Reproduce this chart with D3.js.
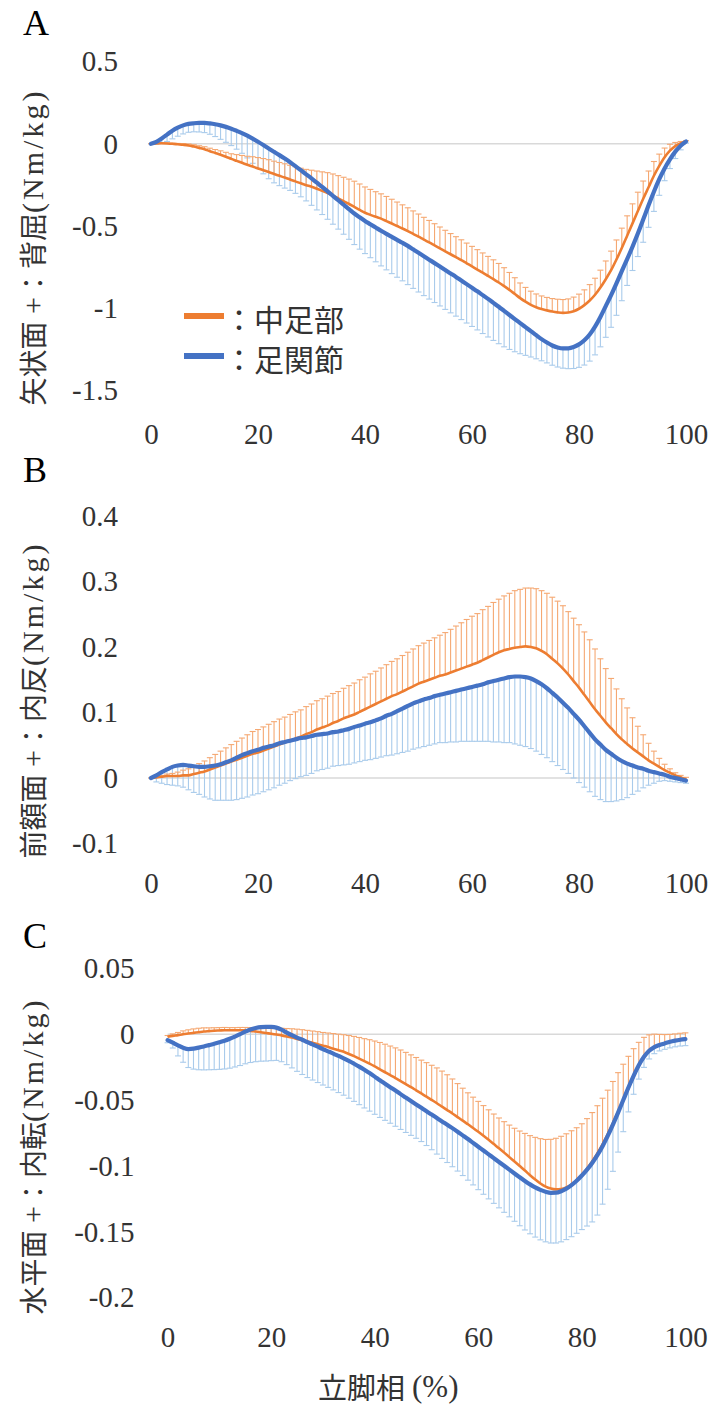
<!DOCTYPE html>
<html><head><meta charset="utf-8">
<script src="https://cdn.jsdelivr.net/npm/d3@7"></script>
<style>body{margin:0;background:#fff;} svg{display:block;}</style>
</head><body>
<svg id="chart" width="714" height="1409"></svg>
<script>
// ---------------- DATA ----------------
const stancePct = d3.range(0, 101); // 立脚相 0..100 %
const seriesNames = ["中足部", "足関節"];
const xTicks = [0, 20, 40, 60, 80, 100];

// Panel A: 矢状面 (sagittal)
const aTicks = [0.5, 0, -0.5, -1, -1.5];
const aMidfootMean = [0.000,0.002,0.003,0.002,0.000,-0.003,-0.006,-0.010,-0.017,-0.025,-0.033,-0.045,-0.056,-0.067,-0.079,-0.092,-0.104,-0.116,-0.128,-0.139,-0.150,-0.161,-0.172,-0.184,-0.195,-0.206,-0.218,-0.229,-0.241,-0.252,-0.262,-0.274,-0.287,-0.300,-0.316,-0.333,-0.350,-0.367,-0.385,-0.403,-0.420,-0.433,-0.445,-0.456,-0.471,-0.486,-0.501,-0.516,-0.532,-0.549,-0.566,-0.584,-0.601,-0.619,-0.637,-0.655,-0.673,-0.691,-0.709,-0.728,-0.747,-0.766,-0.785,-0.805,-0.825,-0.845,-0.867,-0.890,-0.915,-0.940,-0.962,-0.981,-0.996,-1.007,-1.015,-1.022,-1.027,-1.030,-1.028,-1.020,-1.005,-0.983,-0.955,-0.920,-0.876,-0.825,-0.770,-0.705,-0.635,-0.560,-0.485,-0.410,-0.335,-0.265,-0.195,-0.135,-0.082,-0.042,-0.014,0.004,0.014];
const aMidfootSd = [0.000,0.001,0.002,0.003,0.004,0.005,0.007,0.009,0.011,0.013,0.015,0.018,0.021,0.024,0.027,0.031,0.038,0.045,0.052,0.060,0.066,0.071,0.075,0.078,0.081,0.084,0.087,0.089,0.092,0.096,0.101,0.108,0.116,0.124,0.132,0.139,0.146,0.152,0.157,0.158,0.157,0.155,0.153,0.151,0.150,0.148,0.146,0.144,0.142,0.140,0.138,0.136,0.134,0.132,0.130,0.128,0.126,0.125,0.124,0.123,0.122,0.121,0.120,0.119,0.118,0.116,0.112,0.106,0.099,0.092,0.087,0.083,0.081,0.080,0.079,0.079,0.080,0.081,0.083,0.086,0.089,0.093,0.097,0.101,0.106,0.111,0.116,0.119,0.121,0.121,0.119,0.115,0.108,0.099,0.087,0.072,0.056,0.039,0.022,0.010,0.005];
const aAnkleMean = [0.000,0.012,0.032,0.056,0.080,0.098,0.112,0.121,0.125,0.127,0.127,0.124,0.119,0.112,0.103,0.092,0.079,0.065,0.049,0.031,0.012,-0.008,-0.029,-0.049,-0.069,-0.090,-0.112,-0.136,-0.161,-0.186,-0.211,-0.237,-0.263,-0.290,-0.317,-0.344,-0.371,-0.398,-0.425,-0.448,-0.470,-0.490,-0.510,-0.530,-0.549,-0.567,-0.585,-0.603,-0.622,-0.643,-0.664,-0.685,-0.706,-0.727,-0.748,-0.769,-0.790,-0.811,-0.833,-0.855,-0.877,-0.899,-0.922,-0.945,-0.969,-0.993,-1.018,-1.043,-1.068,-1.093,-1.117,-1.141,-1.166,-1.190,-1.211,-1.229,-1.241,-1.247,-1.246,-1.238,-1.222,-1.197,-1.162,-1.114,-1.055,-0.989,-0.922,-0.850,-0.776,-0.703,-0.627,-0.547,-0.462,-0.375,-0.292,-0.216,-0.150,-0.095,-0.048,-0.012,0.014];
const aAnkleSd = [0.000,0.015,0.030,0.042,0.050,0.052,0.052,0.051,0.052,0.055,0.059,0.066,0.075,0.085,0.094,0.103,0.112,0.123,0.135,0.150,0.163,0.175,0.184,0.189,0.186,0.180,0.172,0.166,0.162,0.162,0.164,0.166,0.168,0.170,0.173,0.176,0.180,0.184,0.189,0.194,0.199,0.204,0.209,0.214,0.219,0.224,0.228,0.232,0.236,0.238,0.239,0.240,0.240,0.240,0.240,0.240,0.240,0.239,0.238,0.237,0.236,0.235,0.234,0.232,0.229,0.225,0.219,0.210,0.199,0.186,0.172,0.158,0.144,0.132,0.124,0.120,0.119,0.120,0.124,0.131,0.140,0.151,0.162,0.172,0.182,0.190,0.196,0.195,0.180,0.160,0.145,0.140,0.138,0.134,0.120,0.098,0.075,0.056,0.042,0.025,0.010];

// Panel B: 前額面 (frontal)
const bTicks = [0.4, 0.3, 0.2, 0.1, 0, -0.1];
const bMidfootMean = [0.000,0.001,0.002,0.003,0.003,0.003,0.004,0.004,0.006,0.008,0.010,0.013,0.016,0.019,0.022,0.025,0.028,0.031,0.034,0.037,0.039,0.042,0.045,0.048,0.051,0.054,0.057,0.060,0.063,0.067,0.070,0.074,0.077,0.080,0.084,0.087,0.091,0.094,0.097,0.101,0.105,0.109,0.113,0.117,0.121,0.125,0.128,0.132,0.136,0.140,0.144,0.147,0.150,0.153,0.156,0.158,0.161,0.164,0.167,0.170,0.173,0.176,0.180,0.184,0.188,0.192,0.195,0.197,0.199,0.200,0.201,0.200,0.198,0.194,0.189,0.182,0.175,0.167,0.158,0.148,0.138,0.127,0.116,0.105,0.095,0.085,0.076,0.067,0.059,0.052,0.045,0.039,0.033,0.027,0.022,0.017,0.012,0.008,0.004,0.001,-0.002];
const bMidfootSd = [0.000,0.001,0.002,0.003,0.004,0.006,0.008,0.010,0.012,0.014,0.016,0.018,0.020,0.022,0.024,0.026,0.028,0.030,0.032,0.034,0.035,0.036,0.037,0.038,0.039,0.039,0.040,0.041,0.041,0.042,0.043,0.044,0.044,0.045,0.045,0.045,0.046,0.047,0.048,0.049,0.049,0.050,0.050,0.051,0.052,0.053,0.054,0.055,0.056,0.057,0.058,0.059,0.060,0.061,0.062,0.064,0.066,0.068,0.070,0.072,0.074,0.075,0.077,0.078,0.080,0.081,0.083,0.085,0.087,0.088,0.089,0.090,0.091,0.092,0.093,0.094,0.095,0.096,0.096,0.096,0.096,0.096,0.095,0.092,0.087,0.082,0.076,0.069,0.062,0.055,0.047,0.040,0.033,0.026,0.019,0.013,0.009,0.006,0.004,0.003,0.003];
const bAnkleMean = [0.000,0.004,0.009,0.013,0.017,0.019,0.020,0.019,0.018,0.017,0.017,0.018,0.019,0.021,0.024,0.027,0.031,0.035,0.038,0.041,0.043,0.046,0.048,0.050,0.053,0.055,0.057,0.059,0.061,0.062,0.064,0.066,0.067,0.068,0.070,0.071,0.073,0.075,0.078,0.080,0.083,0.085,0.088,0.091,0.095,0.098,0.102,0.106,0.110,0.114,0.117,0.120,0.122,0.125,0.127,0.129,0.131,0.133,0.135,0.137,0.139,0.141,0.143,0.146,0.148,0.150,0.152,0.154,0.155,0.155,0.154,0.152,0.148,0.143,0.137,0.130,0.123,0.115,0.107,0.098,0.089,0.079,0.069,0.059,0.051,0.043,0.037,0.031,0.026,0.022,0.019,0.016,0.014,0.011,0.009,0.007,0.005,0.002,0.000,-0.002,-0.004];
const bAnkleSd = [0.000,0.010,0.017,0.023,0.028,0.031,0.034,0.037,0.040,0.042,0.046,0.050,0.053,0.055,0.058,0.061,0.064,0.066,0.067,0.067,0.067,0.067,0.066,0.065,0.064,0.063,0.061,0.060,0.059,0.058,0.057,0.055,0.054,0.053,0.052,0.052,0.053,0.054,0.055,0.055,0.056,0.057,0.058,0.059,0.061,0.063,0.065,0.067,0.069,0.070,0.071,0.072,0.072,0.073,0.073,0.075,0.076,0.078,0.079,0.081,0.083,0.085,0.087,0.090,0.093,0.095,0.098,0.100,0.103,0.105,0.106,0.107,0.107,0.107,0.106,0.105,0.104,0.102,0.100,0.098,0.096,0.093,0.090,0.087,0.084,0.079,0.073,0.066,0.059,0.052,0.044,0.036,0.029,0.022,0.017,0.012,0.009,0.007,0.006,0.005,0.004];

// Panel C: 水平面 (transverse)
const cTicks = [0.05, 0, -0.05, -0.1, -0.15, -0.2];
const cMidfootMean = [-0.0020,-0.0013,-0.0007,0.0000,0.0005,0.0010,0.0015,0.0020,0.0023,0.0026,0.0028,0.0030,0.0030,0.0030,0.0030,0.0029,0.0025,0.0020,0.0015,0.0009,0.0003,-0.0003,-0.0009,-0.0017,-0.0026,-0.0036,-0.0046,-0.0056,-0.0066,-0.0076,-0.0087,-0.0098,-0.0110,-0.0122,-0.0134,-0.0150,-0.0167,-0.0185,-0.0204,-0.0224,-0.0245,-0.0267,-0.0289,-0.0311,-0.0333,-0.0356,-0.0379,-0.0402,-0.0426,-0.0450,-0.0474,-0.0499,-0.0524,-0.0550,-0.0576,-0.0602,-0.0629,-0.0656,-0.0684,-0.0712,-0.0741,-0.0771,-0.0802,-0.0834,-0.0866,-0.0899,-0.0933,-0.0967,-0.1001,-0.1035,-0.1070,-0.1103,-0.1133,-0.1157,-0.1172,-0.1178,-0.1175,-0.1163,-0.1141,-0.1110,-0.1070,-0.1022,-0.0967,-0.0905,-0.0836,-0.0760,-0.0677,-0.0590,-0.0500,-0.0410,-0.0320,-0.0240,-0.0172,-0.0125,-0.0098,-0.0082,-0.0070,-0.0060,-0.0050,-0.0043,-0.0038];
const cMidfootSd = [0.0010,0.0015,0.0020,0.0025,0.0028,0.0030,0.0030,0.0028,0.0025,0.0023,0.0022,0.0021,0.0020,0.0020,0.0021,0.0022,0.0025,0.0028,0.0032,0.0036,0.0040,0.0047,0.0054,0.0060,0.0067,0.0074,0.0080,0.0085,0.0090,0.0095,0.0100,0.0107,0.0115,0.0122,0.0130,0.0140,0.0150,0.0160,0.0170,0.0182,0.0193,0.0204,0.0213,0.0221,0.0229,0.0236,0.0241,0.0245,0.0249,0.0253,0.0258,0.0263,0.0268,0.0270,0.0268,0.0262,0.0254,0.0246,0.0239,0.0234,0.0231,0.0229,0.0228,0.0228,0.0230,0.0235,0.0243,0.0253,0.0266,0.0282,0.0300,0.0320,0.0340,0.0358,0.0374,0.0388,0.0400,0.0407,0.0408,0.0400,0.0390,0.0381,0.0372,0.0362,0.0350,0.0335,0.0318,0.0298,0.0272,0.0242,0.0210,0.0178,0.0148,0.0120,0.0098,0.0080,0.0067,0.0058,0.0052,0.0050,0.0048];
const cAnkleMean = [-0.0045,-0.0065,-0.0085,-0.0103,-0.0113,-0.0110,-0.0102,-0.0093,-0.0083,-0.0073,-0.0062,-0.0050,-0.0035,-0.0018,0.0000,0.0020,0.0036,0.0047,0.0054,0.0056,0.0055,0.0050,0.0034,0.0012,-0.0008,-0.0026,-0.0042,-0.0060,-0.0077,-0.0095,-0.0113,-0.0130,-0.0147,-0.0165,-0.0183,-0.0203,-0.0224,-0.0246,-0.0270,-0.0295,-0.0322,-0.0350,-0.0376,-0.0402,-0.0428,-0.0455,-0.0481,-0.0507,-0.0533,-0.0559,-0.0585,-0.0610,-0.0636,-0.0662,-0.0687,-0.0713,-0.0740,-0.0768,-0.0796,-0.0825,-0.0854,-0.0883,-0.0912,-0.0941,-0.0970,-0.0999,-0.1028,-0.1057,-0.1086,-0.1114,-0.1140,-0.1163,-0.1182,-0.1196,-0.1204,-0.1203,-0.1192,-0.1172,-0.1145,-0.1112,-0.1073,-0.1028,-0.0977,-0.0918,-0.0850,-0.0772,-0.0686,-0.0595,-0.0500,-0.0405,-0.0316,-0.0236,-0.0172,-0.0126,-0.0098,-0.0082,-0.0070,-0.0058,-0.0049,-0.0042,-0.0037];
const cAnkleSd = [0.0020,0.0040,0.0080,0.0110,0.0140,0.0155,0.0168,0.0178,0.0187,0.0196,0.0205,0.0214,0.0223,0.0231,0.0238,0.0245,0.0251,0.0256,0.0259,0.0260,0.0256,0.0249,0.0243,0.0243,0.0248,0.0256,0.0264,0.0269,0.0271,0.0272,0.0273,0.0274,0.0276,0.0278,0.0280,0.0283,0.0286,0.0289,0.0290,0.0289,0.0286,0.0282,0.0278,0.0274,0.0271,0.0268,0.0265,0.0261,0.0257,0.0256,0.0260,0.0267,0.0274,0.0281,0.0287,0.0293,0.0299,0.0305,0.0312,0.0319,0.0326,0.0332,0.0338,0.0343,0.0348,0.0353,0.0358,0.0363,0.0368,0.0372,0.0375,0.0377,0.0379,0.0380,0.0381,0.0382,0.0384,0.0387,0.0392,0.0399,0.0410,0.0428,0.0448,0.0455,0.0440,0.0405,0.0355,0.0300,0.0240,0.0185,0.0140,0.0105,0.0080,0.0062,0.0050,0.0045,0.0045,0.0046,0.0047,0.0048,0.0050];

// ---------------- LAYOUT / STYLE ----------------
const ORANGE = "#ED7D31", BLUE = "#4472C4";
const ORANGE_BAR = "#F5A872", BLUE_BAR = "#A9CBEB";
const SERIF = "'Liberation Serif', 'DejaVu Serif', serif";
const CJK = "'Noto Sans CJK JP', 'Noto Sans CJK SC', sans-serif";

const panels = [
  {letter:"A", letterY:35, ticks:aTicks, yDomain:[-1.5,0.5], yRange:[390,61.7], xRange:[151,686], xLabelY:434,
   ylab:[["矢状面",CJK],[" +",SERIF],["：",CJK],["背屈",CJK],["(Nm/kg)",SERIF]], ylabY:247,
   mid:[aMidfootMean,aMidfootSd], ank:[aAnkleMean,aAnkleSd], legend:true},
  {letter:"B", letterY:482, ticks:bTicks, yDomain:[-0.1,0.4], yRange:[843.5,516], xRange:[151,686], xLabelY:883,
   ylab:[["前額面",CJK],[" +",SERIF],["：",CJK],["内反",CJK],["(Nm/kg)",SERIF]], ylabY:700,
   mid:[bMidfootMean,bMidfootSd], ank:[bAnkleMean,bAnkleSd]},
  {letter:"C", letterY:948, ticks:cTicks, yDomain:[-0.2,0.05], yRange:[1297.7,968.3], xRange:[167.6,685.4], xLabelY:1337,
   ylab:[["水平面",CJK],[" +",SERIF],["：",CJK],["内転",CJK],["(Nm/kg)",SERIF]], ylabY:1156,
   mid:[cMidfootMean,cMidfootSd], ank:[cAnkleMean,cAnkleSd]}
];

const svg = d3.select("#chart");
svg.append("rect").attr("width",714).attr("height",1409).attr("fill","#fff");

panels.forEach(p => {
  const x = d3.scaleLinear().domain([0,100]).range(p.xRange);
  const y = d3.scaleLinear().domain(p.yDomain).range(p.yRange);
  const g = svg.append("g");

  // panel letter
  g.append("text").attr("x",23).attr("y",p.letterY).text(p.letter)
    .style("font-family",SERIF).style("font-size","36px").attr("fill","#000");

  // y-axis title (rotated)
  const yt = g.append("text")
    .attr("transform",`translate(32,${p.ylabY}) rotate(-90)`)
    .attr("text-anchor","middle").attr("dominant-baseline","central")
    .attr("fill","#333").style("font-size","28px").style("font-family",CJK);
  p.ylab.forEach(([t,f]) => {
    const ts = yt.append("tspan").style("font-family",f).text(t);
    if (f === SERIF) ts.style("font-size","30px").style("letter-spacing", t.length>3 ? "3px" : "0px");
  });

  // y axis
  const ya = g.append("g").attr("transform",`translate(${p.xRange[0]},0)`)
    .call(d3.axisLeft(y).tickValues(p.ticks).tickFormat(d=>String(d)).tickSize(0).tickPadding(33));
  ya.select(".domain").remove();
  ya.attr("font-family",null).attr("font-size",null);
  ya.selectAll("text").style("font-family",SERIF).style("font-size","29px").attr("fill","#333");

  // x axis labels
  const xa = g.append("g").attr("transform",`translate(0,${p.xLabelY})`)
    .call(d3.axisBottom(x).tickValues(xTicks).tickFormat(d=>String(d)).tickSize(0).tickPadding(0));
  xa.select(".domain").remove();
  xa.attr("font-family",null).attr("font-size",null);
  xa.selectAll("text").style("font-family",SERIF).style("font-size","29px").attr("fill","#333")
    .attr("dy","0.35em").attr("y",0);

  // zero line
  g.append("line").attr("x1",x(0)).attr("x2",x(100)).attr("y1",y(0)).attr("y2",y(0))
    .attr("stroke","#D9D9D9").attr("stroke-width",1.5);

  const drawBars = (mean, sd, sign, color) => {
    const bg = g.append("g").attr("stroke",color).attr("stroke-width",1.1);
    stancePct.forEach((t,i) => {
      const y0 = y(mean[i]), y1 = y(mean[i] + sign*sd[i]);
      bg.append("line").attr("x1",x(t)).attr("x2",x(t)).attr("y1",y0).attr("y2",y1);
      bg.append("line").attr("x1",x(t)-3).attr("x2",x(t)+3).attr("y1",y1).attr("y2",y1);
    });
  };
  drawBars(p.ank[0], p.ank[1], -1, BLUE_BAR);
  drawBars(p.mid[0], p.mid[1], +1, ORANGE_BAR);

  const line = d3.line().x((d,i)=>x(stancePct[i])).y(d=>y(d)).curve(d3.curveMonotoneX);
  g.append("path").datum(p.mid[0]).attr("d",line).attr("fill","none")
    .attr("stroke",ORANGE).attr("stroke-width",2.6).attr("stroke-linejoin","round");
  g.append("path").datum(p.ank[0]).attr("d",line).attr("fill","none")
    .attr("stroke",BLUE).attr("stroke-width",4.2).attr("stroke-linejoin","round").attr("stroke-linecap","round");

  if (p.legend) {
    const lg = g.append("g");
    [[ORANGE,318,seriesNames[0]],[BLUE,358,seriesNames[1]]].forEach(([c,ly,name]) => {
      lg.append("line").attr("x1",184).attr("x2",224).attr("y1",ly-2).attr("y2",ly-2)
        .attr("stroke",c).attr("stroke-width",6);
      lg.append("text").attr("x",224).attr("y",ly).attr("dominant-baseline","central")
        .style("font-family",CJK).style("font-size","30px").attr("fill","#333").text("：" + name);
    });
  }
});

// x-axis title (two pieces: CJK + serif)
svg.append("text").attr("x",405).attr("y",1386).attr("text-anchor","end")
  .attr("dominant-baseline","central").attr("fill","#333")
  .style("font-size","29px").style("font-family",CJK).text("立脚相");
svg.append("text").attr("x",412).attr("y",1386).attr("text-anchor","start")
  .attr("dominant-baseline","central").attr("fill","#333")
  .style("font-size","31px").style("font-family",SERIF).text("(%)");
</script>
</body></html>
